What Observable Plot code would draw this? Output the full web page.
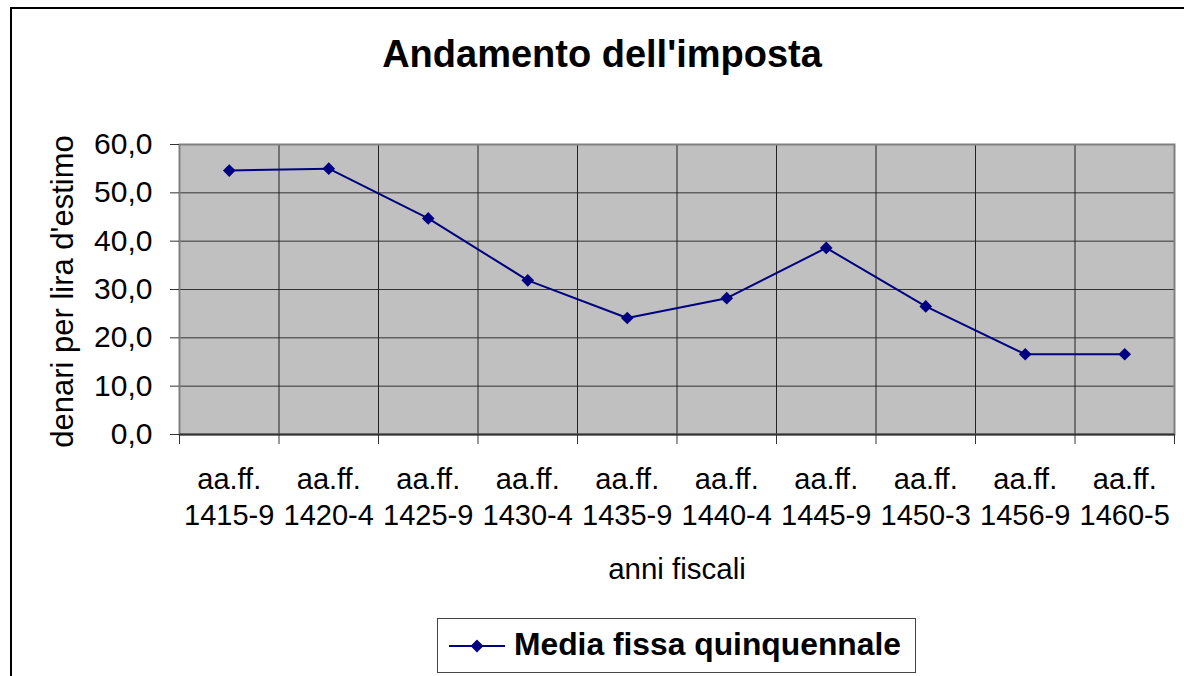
<!DOCTYPE html>
<html>
<head>
<meta charset="utf-8">
<script src="https://cdn.jsdelivr.net/npm/d3@7"></script>
<script src="https://cdn.jsdelivr.net/npm/@observablehq/plot@0.6"></script>
<style>
  html, body { margin: 0; padding: 0; background: #fff; }
  body { width: 1184px; height: 676px; position: relative; overflow: hidden; font-family: Arial, "Liberation Sans", sans-serif; }
  #frame { position: absolute; left: 10px; top: 7px; width: 1300px; height: 800px; border: 2px solid #000; box-sizing: border-box; }
  #title { position: absolute; left: 602px; top: 35px; transform: translateX(-50%); font-size: 38px; line-height: 1; font-weight: bold; white-space: nowrap; color: #000; }
  #chart { position: absolute; left: 0; top: 0; }
  #legend { position: absolute; left: 437px; top: 618px; width: 479px; height: 55px; box-sizing: border-box; border: 1px solid #444; background: #fff; }
  #legend svg { position: absolute; left: 11px; top: 17px; }
  #legend span { position: absolute; left: 76px; top: 10px; font-size: 31.8px; line-height: 1; font-weight: bold; white-space: nowrap; color: #000; }
</style>
</head>
<body>
<div id="frame"></div>
<div id="chart"></div>
<div id="title"></div>
<div id="legend"></div>
<script>
// ---- data ----
const titleText = "Andamento dell'imposta";
const yLabel = "denari per lira d'estimo";
const xLabel = "anni fiscali";
const seriesName = "Media fissa quinquennale";
const categories = ["1415-9", "1420-4", "1425-9", "1430-4", "1435-9", "1440-4", "1445-9", "1450-3", "1456-9", "1460-5"];
const categoryPrefix = "aa.ff.";
const values = [54.6, 55.0, 44.7, 31.9, 24.1, 28.2, 38.6, 26.5, 16.6, 16.6];
const yTicks = [0, 10, 20, 30, 40, 50, 60];

// ---- chart ----
const xPos = (d, i) => i + 0.5;
const centers = categories.map((c, i) => i + 0.5);
const bounds = d3.range(categories.length + 1);
const navy = "#000080";

const chart = Plot.plot({
  width: 1184,
  height: 600,
  marginLeft: 179,
  marginRight: 10,
  marginTop: 144,
  marginBottom: 166,
  style: { fontFamily: "Arial, 'Liberation Sans', sans-serif", fontSize: "28px", background: "transparent", color: "#000", overflow: "visible" },
  x: { domain: [0, categories.length], axis: null },
  y: { domain: [yTicks[0], yTicks[yTicks.length - 1]], axis: null },
  marks: [
    Plot.frame({ fill: "#c0c0c0" }),
    Plot.ruleY(yTicks.slice(1, -1), { stroke: "#333", strokeWidth: 1 }),
    Plot.ruleX(bounds.slice(1, -1), { stroke: "#222", strokeWidth: 1 }),
    Plot.frame({ stroke: "#808080", strokeWidth: 2 }),
    Plot.ruleY([0], { stroke: "#333", strokeWidth: 2 }),
    Plot.axisY({ ticks: yTicks, tickSize: 9, tickPadding: 18, stroke: "#333", fontSize: 30,
      tickFormat: d => d.toFixed(1).replace(".", ","), label: null }),
    Plot.axisX({ ticks: bounds, tickSize: 10, stroke: "#333", tickFormat: () => "", label: null }),
    Plot.axisX({ ticks: centers, tickSize: 0, tickPadding: 28, fontSize: 29, lineHeight: 1.27,
      tickFormat: v => categoryPrefix + "\n" + categories[Math.floor(v)], label: null }),
    Plot.text([xLabel], { frameAnchor: "bottom", dy: 144, fontSize: 29.5 }),
    Plot.text([yLabel], { frameAnchor: "left", textAnchor: "middle", rotate: -90, dx: -116, dy: 2, fontSize: 31 }),
    Plot.line(values, { x: xPos, y: d => d, stroke: navy, strokeWidth: 2 }),
    Plot.dot(values, { x: xPos, y: d => d, symbol: "diamond2", r: 5.7, fill: navy, stroke: "none" })
  ]
});
document.getElementById("chart").appendChild(chart);
document.getElementById("title").textContent = titleText;

const legend = document.getElementById("legend");
legend.innerHTML = `<svg width="60" height="20" viewBox="0 0 60 20">
  <line x1="0" y1="10" x2="56" y2="10" stroke="${navy}" stroke-width="2"></line>
  <path d="M28,3.5 L34.5,10 L28,16.5 L21.5,10 Z" fill="${navy}"></path>
</svg>`;
const span = document.createElement("span");
span.textContent = seriesName;
legend.appendChild(span);
</script>
</body>
</html>
